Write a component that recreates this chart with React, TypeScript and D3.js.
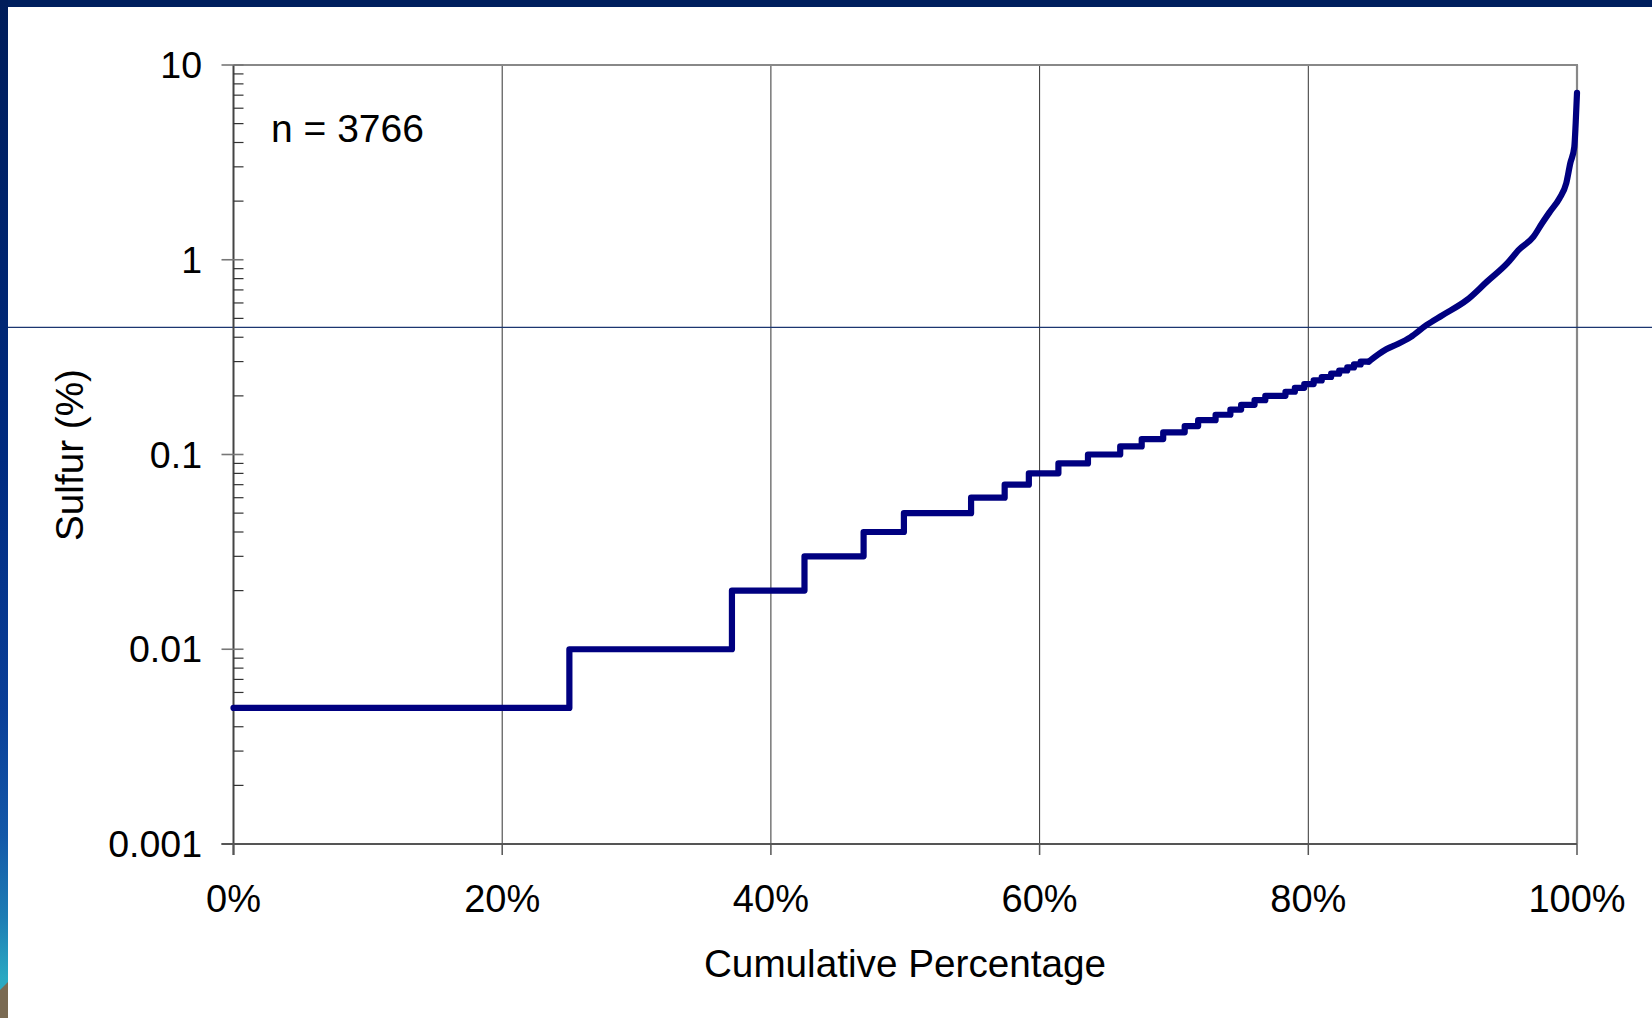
import React from "react";
import * as d3 from "d3";

// ---- data ----
const stepStarts = [0, 25.0, 37.1, 42.5, 46.9, 49.9, 54.9, 57.4, 59.2, 61.4, 63.6, 66.0, 67.6, 69.2, 70.8, 71.8, 73.1, 74.2, 75.0, 76.0, 76.8, 78.3, 79.0, 79.7, 80.4, 81.0, 81.7, 82.3, 82.9, 83.4, 83.9];
const stepValues = [0.005, 0.01, 0.02, 0.03, 0.04, 0.05, 0.06, 0.07, 0.08, 0.09, 0.10, 0.11, 0.12, 0.13, 0.14, 0.15, 0.16, 0.17, 0.18, 0.19, 0.20, 0.21, 0.22, 0.23, 0.24, 0.25, 0.26, 0.27, 0.28, 0.29, 0.30];
const tailPct = [84.5, 85.8, 86.7, 87.6, 88.8, 90.0, 91.8, 93.3, 94.8, 95.7, 96.75, 97.4, 98.0, 98.7, 99.2, 99.5, 99.8, 99.9, 100];
const tailValues = [0.30, 0.347, 0.37, 0.40, 0.462, 0.52, 0.621, 0.772, 0.958, 1.13, 1.31, 1.54, 1.77, 2.07, 2.47, 3.13, 3.8, 5.0, 7.2];
const xTicks = [0, 20, 40, 60, 80, 100];
const yMajor = [0.001, 0.01, 0.1, 1, 10];
const yLabels = ["0.001", "0.01", "0.1", "1", "10"];
const nLabel = "n = 3766";
const xTitle = "Cumulative Percentage";
const yTitle = "Sulfur (%)";

const W = 1652;
const H = 1018;
const FONT = "'Liberation Sans', Arial, sans-serif";

export default function App() {
  const x = d3.scaleLinear().domain([0, 100]).range([233.5, 1577]);
  const y = d3.scaleLog().domain([0.001, 10]).range([844, 65]);

  const minor: number[] = [];
  for (let k = -3; k <= 0; k++) {
    for (let m = 2; m <= 9; m++) minor.push(m * Math.pow(10, k));
  }

  const stepPts: [number, number][] = stepStarts.map((s, i) => [s, stepValues[i]]);
  stepPts.push([tailPct[0], stepValues[stepValues.length - 1]]);
  const tailPts: [number, number][] = tailPct.map((p, i) => [p, tailValues[i]]);

  const stepLine = d3
    .line<[number, number]>()
    .x((d) => x(d[0]))
    .y((d) => y(d[1]))
    .curve(d3.curveStepAfter);
  const tailLine = d3
    .line<[number, number]>()
    .x((d) => x(d[0]))
    .y((d) => y(d[1]))
    .curve(d3.curveMonotoneX);

  const x0 = x(0);
  const x1 = x(100);
  const yb = y(0.001);
  const yt = y(10);

  return (
    <svg
      width={W}
      height={H}
      style={{ position: "absolute", left: 0, top: 0, background: "#fff" }}
      fontFamily={FONT}
    >
      <defs>
        <linearGradient id="leftbar" x1="0" y1="0" x2="0" y2="1">
          <stop offset="0" stopColor="#001d5a" />
          <stop offset="0.45" stopColor="#002b80" />
          <stop offset="0.7" stopColor="#0a3f98" />
          <stop offset="0.82" stopColor="#1358a8" />
          <stop offset="0.9" stopColor="#1d7cb4" />
          <stop offset="0.96" stopColor="#2aa8c2" />
          <stop offset="1" stopColor="#2ab0c4" />
        </linearGradient>
      </defs>
      <rect x={0} y={0} width={W} height={H} fill="#fff" />
      {/* slide frame */}
      <rect x={0} y={0} width={W} height={7} fill="#001f5e" />
      <rect x={0} y={0} width={8} height={H} fill="url(#leftbar)" />
      <polygon points={`0,990 8,982 8,${H} 0,${H}`} fill="#7a6a52" />

      {/* vertical gridlines */}
      {xTicks.slice(1, -1).map((t) => (
        <line key={"g" + t} x1={x(t)} x2={x(t)} y1={yt} y2={yb} stroke="#333" strokeWidth={1} />
      ))}
      {/* plot border top/right */}
      <line x1={x0} x2={x1 + 1} y1={yt} y2={yt} stroke="#888" strokeWidth={2} />
      <line x1={x1} x2={x1} y1={yt} y2={yb} stroke="#888" strokeWidth={2.2} />

      {/* slide decoration line */}
      <line x1={8} x2={W} y1={327.3} y2={327.3} stroke="#1b3670" strokeWidth={1.3} />

      {/* y axis */}
      <line x1={x0} x2={x0} y1={yt} y2={yb + 11} stroke="#444" strokeWidth={2} />
      {minor.map((v) => (
        <line key={"m" + v} x1={x0} x2={x0 + 10} y1={y(v)} y2={y(v)} stroke="#333" strokeWidth={1.2} />
      ))}
      {yMajor.map((v, i) => (
        <g key={"y" + v}>
          <line x1={x0 - 12} x2={x0 + 10} y1={y(v)} y2={y(v)} stroke="#777" strokeWidth={1.6} />
          <text x={202} y={y(v) + 13} textAnchor="end" fontSize={37.5} fill="#000">
            {yLabels[i]}
          </text>
        </g>
      ))}

      {/* x axis */}
      <line x1={x0 - 12} x2={x1} y1={yb} y2={yb} stroke="#555" strokeWidth={2} />
      {xTicks.map((t) => (
        <g key={"x" + t}>
          <line x1={x(t)} x2={x(t)} y1={yb} y2={yb + 11} stroke="#555" strokeWidth={1.5} />
          <text x={x(t)} y={912} textAnchor="middle" fontSize={38} fill="#000">
            {t + "%"}
          </text>
        </g>
      ))}

      {/* data */}
      <path d={stepLine(stepPts) || ""} fill="none" stroke="#000080" strokeWidth={6.2} strokeLinejoin="round" strokeLinecap="round" />
      <path d={tailLine(tailPts) || ""} fill="none" stroke="#000080" strokeWidth={6.2} strokeLinejoin="round" strokeLinecap="round" />

      {/* annotations */}
      <text x={271} y={142} fontSize={39} fill="#000">
        {nLabel}
      </text>
      <text x={905} y={977} textAnchor="middle" fontSize={38.7} fill="#000">
        {xTitle}
      </text>
      <text transform={`translate(83, 455) rotate(-90)`} textAnchor="middle" fontSize={38.7} fill="#000">
        {yTitle}
      </text>
    </svg>
  );
}
